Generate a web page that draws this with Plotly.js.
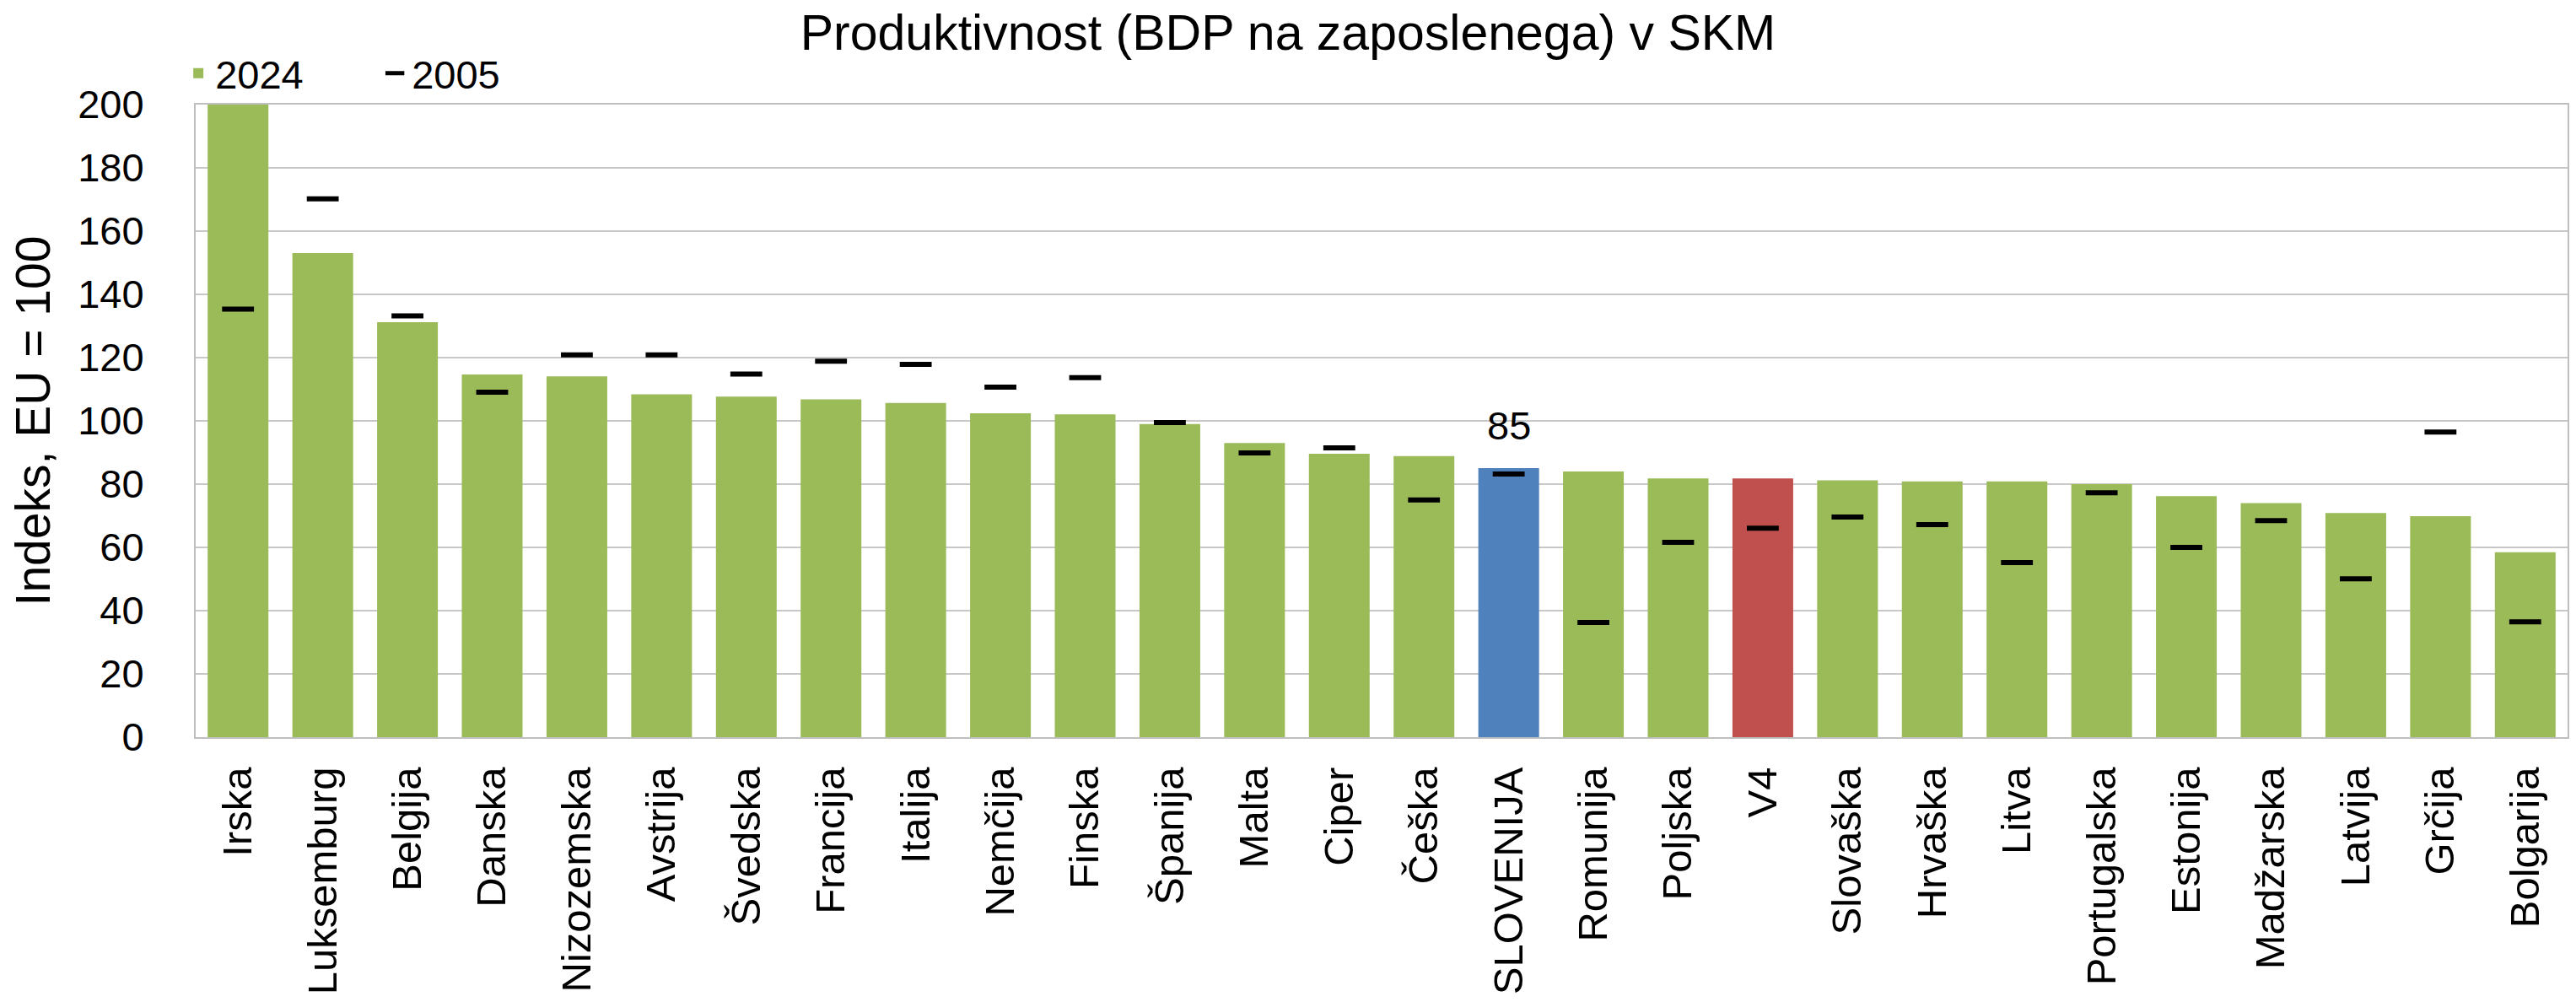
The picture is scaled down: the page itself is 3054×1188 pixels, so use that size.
<!DOCTYPE html>
<html>
<head>
<meta charset="utf-8">
<script src="https://cdn.plot.ly/plotly-3.0.1.min.js"></script>
<style>html,body{margin:0;padding:0;background:#fff;}#chart{width:3054px;height:1188px;}</style>
</head>
<body>
<div id="chart"></div>
<script>
const categories = ["Irska","Luksemburg","Belgija","Danska","Nizozemska","Avstrija","Švedska","Francija","Italija","Nemčija","Finska","Španija","Malta","Ciper","Češka","SLOVENIJA","Romunija","Poljska","V4","Slovaška","Hrvaška","Litva","Portugalska","Estonija","Madžarska","Latvija","Grčija","Bolgarija"];
const values2024 = [200,153.1,131.2,114.7,114.1,108.4,107.7,106.8,105.7,102.4,102.1,99.0,93.0,89.6,88.9,85.1,84.0,81.8,81.8,81.2,80.9,80.9,80.0,76.2,74.0,70.9,69.9,58.5];
const values2005 = [135.3,170.2,133.2,109.1,120.9,120.9,114.8,118.9,117.9,110.7,113.7,99.5,89.9,91.5,75.0,83.2,36.3,61.6,66.1,69.6,67.2,55.2,77.3,60.0,68.5,50.1,96.5,36.5];
const yTicks = [0,20,40,60,80,100,120,140,160,180,200];
const labelled = "SLOVENIJA";

const GREEN = "#9BBB59", BLUE = "#4F81BD", RED = "#C0504D";
const barColors = categories.map(c => c === "SLOVENIJA" ? BLUE : (c === "V4" ? RED : GREEN));
const FONT = "Arial, 'Liberation Sans', sans-serif";

const traces = [
  {
    type: "bar", name: "2024", x: categories, y: values2024,
    marker: {color: barColors, line: {width: 0}},
    hoverinfo: "x+y"
  },
  {
    type: "scatter", mode: "markers", name: "2005", x: categories, y: values2005,
    marker: {symbol: "line-ew", size: 27, color: "#000", line: {width: 6, color: "#000"}},
    hoverinfo: "x+y"
  }
];

const li = categories.indexOf(labelled);
const layout = {
  width: 3054, height: 1188,
  paper_bgcolor: "#fff", plot_bgcolor: "#fff",
  margin: {l: 232, r: 10, t: 124, b: 314, pad: 0},
  font: {family: FONT, color: "#000", size: 47},
  title: {text: "Produktivnost (BDP na zaposlenega) v SKM", font: {family: FONT, size: 59, color: "#000"},
          x: 0.5, xref: "container", xanchor: "center", y: 1 - 38/1188, yref: "container", yanchor: "middle"},
  bargap: 0.283,
  showlegend: true,
  legend: {orientation: "h", x: -0.006, xanchor: "left", y: 1.049, yanchor: "middle",
           font: {family: FONT, size: 47, color: "#000"}, bgcolor: "rgba(0,0,0,0)",
           traceorder: "normal", entrywidth: 188, entrywidthmode: "pixels"},
  xaxis: {
    type: "category", range: [-0.5, categories.length - 0.5], autorange: false,
    tickangle: -90, tickfont: {family: FONT, size: 49, color: "#000"},
    showline: true, linecolor: "#BFBFBF", linewidth: 2, mirror: true,
    showgrid: false, ticks: "", ticklabelstandoff: 14, automargin: false
  },
  yaxis: {
    range: [0, 200], autorange: false, tickvals: yTicks, ticktext: yTicks.map(String),
    tickfont: {family: FONT, size: 47, color: "#000"},
    showline: true, linecolor: "#BFBFBF", linewidth: 2, mirror: true,
    showgrid: true, gridcolor: "#C8C8C8", gridwidth: 2, zeroline: false,
    ticks: "", ticklabelstandoff: 50, automargin: false,
    title: {text: "Indeks, EU = 100", font: {family: FONT, size: 57, color: "#000"}, standoff: 14}
  },
  annotations: [{
    x: categories[li], y: values2024[li], xref: "x", yref: "y",
    text: String(Math.round(values2024[li])), showarrow: false,
    yanchor: "bottom", yshift: 22, font: {family: FONT, size: 47, color: "#000"}
  }]
};

Plotly.newPlot("chart", traces, layout, {displayModeBar: false, staticPlot: true});
</script>
</body>
</html>
